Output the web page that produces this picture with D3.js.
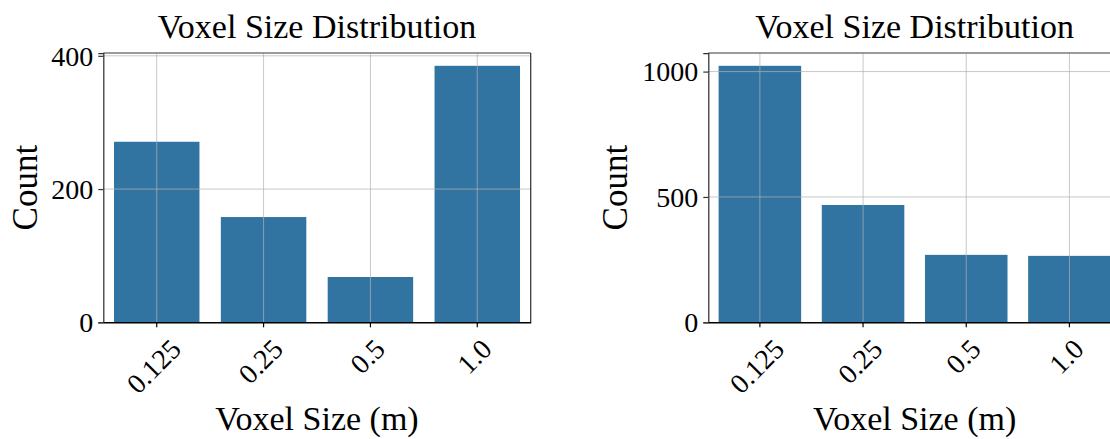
<!DOCTYPE html>
<html>
<head>
<meta charset="utf-8">
<script src="https://cdn.jsdelivr.net/npm/d3@7"></script>
<style>
  html, body { margin: 0; padding: 0; background: #fff; }
  svg { display: block; }
  text { font-family: "Liberation Serif", "DejaVu Serif", serif; fill: #000; }
</style>
</head>
<body>
<svg id="chart" width="1110" height="439"></svg>
<script>
// Voxel size categories shared by both panels
const categories = ["0.125", "0.25", "0.5", "1.0"];
// Counts per voxel size, one array per panel
const countsA = [271, 158, 68, 385];
const countsB = [1023, 468, 269, 265];
// Y tick values per panel
const ticksA = [0, 200, 400];
const ticksB = [0, 500, 1000];

const titleText = "Voxel Size Distribution";
const xLabelText = "Voxel Size (m)";
const yLabelText = "Count";

const barColor = "#3274a1";
const gridColor = "#b0b0b0";

const svg = d3.select("#chart");

// panel frames; yLabelGap is the distance of the y label baseline from the left spine
const panels = [
  { left: 103.3, right: 530.7, values: countsA, ticks: ticksA, yLabelGap: 66 },
  { left: 708.3, right: 1121, values: countsB, ticks: ticksB, yLabelGap: 81 }
];
const plotTop = 53, plotBottom = 322.3;

panels.forEach(p => {
  const g = svg.append("g");
  const x = d3.scaleBand()
    .domain(categories)
    .range([p.left, p.right])
    .paddingInner(0.2)
    .paddingOuter(0.1);
  const y = d3.scaleLinear()
    .domain([0, d3.max(p.values) * 1.05])
    .range([plotBottom, plotTop]);

  // bars
  g.selectAll("rect.bar")
    .data(categories.map((c, i) => ({ c, v: p.values[i] })))
    .join("rect")
    .attr("class", "bar")
    .attr("x", d => x(d.c))
    .attr("width", x.bandwidth())
    .attr("y", d => y(d.v))
    .attr("height", d => plotBottom - y(d.v))
    .attr("fill", barColor);

  // grid lines drawn over the bars
  const grid = g.append("g").attr("stroke", gridColor).attr("stroke-opacity", 0.7).attr("stroke-width", 1);
  grid.selectAll("line.gx")
    .data(categories)
    .join("line")
    .attr("class", "gx")
    .attr("x1", d => x(d) + x.bandwidth() / 2)
    .attr("x2", d => x(d) + x.bandwidth() / 2)
    .attr("y1", plotTop).attr("y2", plotBottom);
  grid.selectAll("line.gy")
    .data(p.ticks.filter(t => t > 0))
    .join("line")
    .attr("class", "gy")
    .attr("x1", p.left).attr("x2", p.right)
    .attr("y1", d => y(d)).attr("y2", d => y(d));

  // spines
  g.append("line").attr("x1", p.left).attr("x2", p.right).attr("y1", plotTop).attr("y2", plotTop)
    .attr("stroke", "#7a7a7a").attr("stroke-width", 1.6);
  g.append("line").attr("x1", p.right).attr("x2", p.right).attr("y1", plotTop).attr("y2", plotBottom)
    .attr("stroke", "#333").attr("stroke-width", 1.25);

  // y axis
  const yAxis = d3.axisLeft(y).tickValues(p.ticks).tickSize(5).tickPadding(5).tickFormat(d3.format("d"));
  const ya = g.append("g").attr("transform", `translate(${p.left},0)`).call(yAxis);
  ya.select(".domain").attr("stroke", "#333").attr("stroke-width", 1.25);
  ya.selectAll(".tick line").attr("stroke", "#333").attr("stroke-width", 1.2);
  ya.selectAll(".tick text")
    .style("font-family", '"Liberation Serif", serif')
    .attr("font-size", 28).attr("dy", "0.33em").attr("fill", "#000");

  // x axis
  const xAxis = d3.axisBottom(x).tickSize(5).tickSizeOuter(0).tickPadding(5);
  const xa = g.append("g").attr("transform", `translate(0,${plotBottom})`).call(xAxis);
  xa.select(".domain").attr("stroke", "#000").attr("stroke-width", 1.5);
  xa.selectAll(".tick line").attr("stroke", "#000").attr("stroke-width", 1.2);
  // rotated tick labels: rotated box centred on the tick, top edge under the tick
  xa.selectAll(".tick text").each(function () {
    const t = d3.select(this);
    const fs = 28;
    t.style("font-family", '"Liberation Serif", serif').attr("font-size", fs).attr("fill", "#000");
    const w = this.getComputedTextLength();
    const h = fs * 0.68;
    const H = (w + h) / Math.SQRT2;
    const cy = 15 + H / 2;
    t.attr("text-anchor", "middle")
      .attr("y", 0).attr("dy", null)
      .attr("transform", `translate(-3,${cy}) rotate(-45) translate(0,${fs * 0.34})`);
  });

  const cx = (p.left + p.right) / 2;
  // title
  g.append("text").attr("x", cx).attr("y", 37.7).attr("text-anchor", "middle")
    .attr("font-size", 34).text(titleText);
  // x label
  g.append("text").attr("x", cx).attr("y", 430).attr("text-anchor", "middle")
    .attr("font-size", 34).text(xLabelText);
  // y label
  g.append("text")
    .attr("transform", `translate(${p.left - p.yLabelGap},${(plotTop + plotBottom) / 2}) rotate(-90)`)
    .attr("text-anchor", "middle").attr("font-size", 35).text(yLabelText);
});
</script>
</body>
</html>
